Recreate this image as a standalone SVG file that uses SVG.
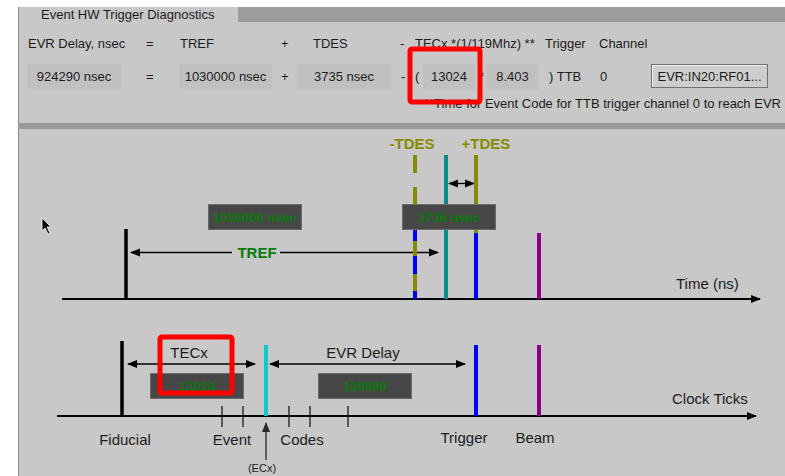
<svg xmlns="http://www.w3.org/2000/svg" width="785" height="476" viewBox="0 0 785 476">
<defs>
<style>
text{font-family:"Liberation Sans",Arial,sans-serif;fill:#1c1c1c}
.t13{font-size:13px}
.t15{font-size:15px}
.fld{fill:#c0c0c0}
.box{fill:#474747;stroke:#6a6a6a;stroke-width:1}
.gv{font-size:13px;font-weight:bold;fill:#0a7a0a;text-anchor:middle}
.ol{font-size:15px;font-weight:bold;fill:#8a8a00;text-anchor:middle}
.ax{stroke:#000;stroke-width:2;fill:none}
.arr{stroke:#000;stroke-width:1.3;fill:none}
.red{fill:none;stroke:#ff0000;stroke-width:5}
.lab{font-size:15px;text-anchor:middle}
</style>
<marker id="ah" markerWidth="10" markerHeight="10" refX="9" refY="5" orient="auto-start-reverse" markerUnits="userSpaceOnUse">
<path d="M0,1 L10,5 L0,9 Z" fill="#000"/>
</marker>
<marker id="ahg" markerWidth="10" markerHeight="10" refX="9" refY="5" orient="auto" markerUnits="userSpaceOnUse">
<path d="M0,1 L10,5 L0,9 Z" fill="#2a2a2a"/>
</marker>
</defs>
<rect x="0" y="0" width="785" height="476" fill="#ffffff"/>
<rect x="18" y="7" width="767" height="469" fill="#c8c8c8"/>
<line x1="18.5" y1="7" x2="18.5" y2="476" stroke="#8a8a8a" stroke-width="1"/>
<rect x="238" y="7" width="547" height="15" fill="#9c9c9c"/>
<rect x="18" y="123" width="767" height="6" fill="#9a9a9a"/>

<g id="header">
<text class="t13" x="41" y="19">Event HW Trigger Diagnostics</text>
<text class="t13" x="28" y="48">EVR Delay, nsec</text>
<text class="t13" x="146" y="48">=</text>
<text class="t13" x="180" y="48">TREF</text>
<text class="t13" x="281" y="48">+</text>
<text class="t13" x="313" y="48">TDES</text>
<text class="t13" x="400" y="48">-</text>
<text class="t13" x="415" y="48">TECx *(1/119Mhz) **</text>
<text class="t13" x="545" y="48">Trigger</text>
<text class="t13" x="599" y="48">Channel</text>
</g>

<g id="values">
<rect class="fld" x="27" y="64" width="94" height="25"/>
<text class="t13" x="74" y="81" text-anchor="middle">924290 nsec</text>
<text class="t13" x="146" y="81">=</text>
<rect class="fld" x="179" y="64" width="93" height="25"/>
<text class="t13" x="225.5" y="81" text-anchor="middle">1030000 nsec</text>
<text class="t13" x="281" y="81">+</text>
<rect class="fld" x="297" y="64" width="94" height="25"/>
<text class="t13" x="344" y="81" text-anchor="middle">3735 nsec</text>
<text class="t13" x="401" y="81">-</text>
<text class="t13" x="415" y="81">(</text>
<rect class="fld" x="423" y="64" width="52" height="25"/>
<text class="t13" x="449" y="81" text-anchor="middle">13024</text>
<text class="t13" x="479" y="81">*</text>
<rect class="fld" x="487" y="64" width="51" height="25"/>
<text class="t13" x="512.5" y="81" text-anchor="middle">8.403</text>
<text class="t13" x="549" y="81">) TTB</text>
<text class="t13" x="600" y="81">0</text>
</g>

<g id="button">
<rect x="651.5" y="64.5" width="116" height="23" fill="#cdcdcd" stroke="#707070" stroke-width="1"/>
<line x1="652.5" y1="65.5" x2="766.5" y2="65.5" stroke="#eeeeee"/>
<line x1="652.5" y1="65.5" x2="652.5" y2="86.5" stroke="#eeeeee"/>
<text class="t13" x="709.5" y="81" text-anchor="middle">EVR:IN20:RF01...</text>
</g>
<text class="t13" x="424" y="108">**Time for Event Code for TTB trigger channel 0 to reach EVR</text>
<rect id="red-top" class="red" x="410" y="49" width="70" height="53" rx="2"/>

<g id="connectors">
<line class="ax" x1="62" y1="299" x2="760" y2="299" marker-end="url(#ah)"/>
<line class="arr" x1="131" y1="252.5" x2="232" y2="252.5" marker-start="url(#ah)"/>
<line class="arr" x1="280" y1="252.5" x2="438" y2="252.5" marker-end="url(#ah)"/>
<line class="arr" x1="449" y1="183.5" x2="474" y2="183.5" marker-start="url(#ah)" marker-end="url(#ah)"/>
<line class="ax" x1="57" y1="416" x2="756" y2="416" marker-end="url(#ah)"/>
<line class="arr" x1="128" y1="364" x2="255" y2="364" marker-start="url(#ah)" marker-end="url(#ah)"/>
<line class="arr" x1="270" y1="364" x2="465" y2="364" marker-start="url(#ah)" marker-end="url(#ah)"/>
<line x1="266" y1="460" x2="266" y2="423" stroke="#3a3a3a" stroke-width="1.5" marker-end="url(#ahg)"/>
</g>

<g id="upper-fiducial"><line x1="126" y1="229" x2="126" y2="299" stroke="#000" stroke-width="3.5"/></g>
<g id="tref-label"><text x="257" y="258" class="gv" style="font-size:15px">TREF</text></g>
<g id="box-tref"><rect class="box" x="208.5" y="204.5" width="93" height="25"/><text class="gv" x="255" y="222">1030000 nsec</text></g>

<g id="minus-tdes">
<line x1="415" y1="212" x2="415" y2="299" stroke="#0000ff" stroke-width="4"/>
<path d="M415 155V173M415 187V204M415 241V256M415 274V291" stroke="#8a8a00" stroke-width="4"/>
<text class="ol" x="412" y="149">-TDES</text>
</g>
<g id="teal-line"><line x1="446" y1="155" x2="446" y2="299" stroke="#0a8c8c" stroke-width="4"/></g>
<g id="plus-tdes">
<line x1="476" y1="155" x2="476" y2="233" stroke="#8a8a00" stroke-width="4"/>
<line x1="476" y1="233" x2="476" y2="299" stroke="#0000ff" stroke-width="4"/>
<text class="ol" x="486" y="149">+TDES</text>
</g>
<g id="box-tdes"><rect class="box" x="402.5" y="204.5" width="93" height="25"/><text class="gv" x="449" y="222">3735 nsec</text></g>
<g id="upper-beam"><line x1="539" y1="233" x2="539" y2="299" stroke="#880088" stroke-width="4"/></g>
<text class="t15" x="676" y="289">Time (ns)</text>

<g id="lower-fiducial">
<line x1="122" y1="341" x2="122" y2="416" stroke="#000" stroke-width="3.5"/>
<text class="lab" x="125" y="445">Fiducial</text>
</g>
<g id="tecx-label"><text class="lab" x="189" y="358">TECx</text></g>
<g id="box-tecx"><rect class="box" x="150.5" y="373.5" width="93" height="25"/><text class="gv" x="197" y="391">13024</text></g>
<g id="ecx">
<line x1="266" y1="345" x2="266" y2="416" stroke="#10c8c8" stroke-width="4"/>
<text x="262" y="472" style="font-size:11px" text-anchor="middle">(ECx)</text>
</g>
<g id="evr-delay-label"><text class="lab" x="363" y="358">EVR Delay</text></g>
<g id="box-evr"><rect class="box" x="318.5" y="373.5" width="93" height="25"/><text class="gv" x="365" y="391">109990</text></g>
<g id="ticks">
<path d="M222 406V427M243 406V427M289 406V427M310 406V427M348 406V427" stroke="#1a1a1a" stroke-width="1.3"/>
<text class="lab" x="232" y="445">Event</text>
<text class="lab" x="302" y="445">Codes</text>
</g>
<g id="trigger">
<line x1="476" y1="345" x2="476" y2="416" stroke="#0000ff" stroke-width="4"/>
<text class="lab" x="464" y="443">Trigger</text>
</g>
<g id="beam">
<line x1="539" y1="345" x2="539" y2="416" stroke="#880088" stroke-width="4"/>
<text class="lab" x="535" y="443">Beam</text>
</g>
<text class="t15" x="672" y="404">Clock Ticks</text>
<rect id="red-bottom" class="red" x="160" y="337" width="72" height="56" rx="2"/>

<polygon id="cursor" points="42,218 42,231 45,228 48,234 50,233 47,227 51,227" fill="#000" stroke="#fff" stroke-width="0.8"/>
</svg>
